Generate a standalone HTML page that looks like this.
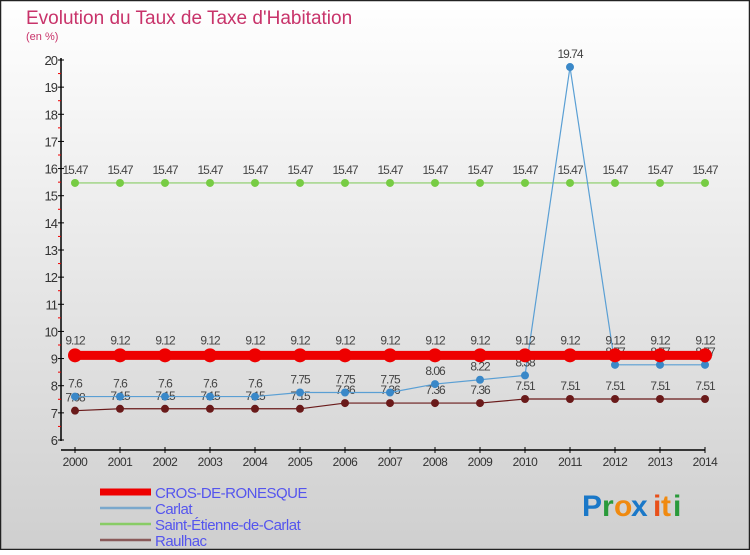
<!DOCTYPE html>
<html><head><meta charset="utf-8">
<style>
html,body{margin:0;padding:0}
body{width:750px;height:550px;overflow:hidden;font-family:"Liberation Sans",sans-serif}
svg text{font-family:"Liberation Sans",sans-serif}
</style></head>
<body>
<svg id="chart" width="750" height="550" xmlns="http://www.w3.org/2000/svg">
<defs>
<linearGradient id="bg" x1="0" y1="0" x2="0" y2="1">
<stop offset="0" stop-color="#ffffff"/><stop offset="1" stop-color="#cfcfcf"/>
</linearGradient>
</defs>
<rect x="0.5" y="0.5" width="749" height="549" fill="url(#bg)" stroke="#222" stroke-width="1.5"/>
<text x="26" y="24" font-size="19" fill="#c8336a">Evolution du Taux de Taxe d'Habitation</text>
<text x="26" y="40" font-size="11" fill="#c8336a">(en %)</text>
<g id="axes"></g>
<g id="series"></g>
<g id="legend"></g>
<g font-size="30" font-weight="bold">
<text x="582" y="516" fill="#1a78c8">P</text><text x="602" y="516" fill="#2a9a3a">r</text><text x="614" y="516" fill="#f08a10">o</text><text x="631" y="516" fill="#1a78c8">x</text><text x="653" y="516" fill="#e8501a">i</text><text x="661" y="516" fill="#f08a10">t</text><text x="673" y="516" fill="#2a9a3a">i</text>
</g>
</svg>
<script>
const years=[2000,2001,2002,2003,2004,2005,2006,2007,2008,2009,2010,2011,2012,2013,2014];
const crosValues=[9.12,9.12,9.12,9.12,9.12,9.12,9.12,9.12,9.12,9.12,9.12,9.12,9.12,9.12,9.12];
const carlatValues=[7.6,7.6,7.6,7.6,7.6,7.75,7.75,7.75,8.06,8.22,8.38,19.74,8.77,8.77,8.77];
const stEtienneValues=[15.47,15.47,15.47,15.47,15.47,15.47,15.47,15.47,15.47,15.47,15.47,15.47,15.47,15.47,15.47];
const raulhacValues=[7.08,7.15,7.15,7.15,7.15,7.15,7.36,7.36,7.36,7.36,7.51,7.51,7.51,7.51,7.51];
const yTicks=[6,7,8,9,10,11,12,13,14,15,16,17,18,19,20];
const seriesNames=["CROS-DE-RONESQUE","Carlat","Saint-Étienne-de-Carlat","Raulhac"];

const NS="http://www.w3.org/2000/svg";
const x0=75,dx=45,yTop=60,yMin=6,yMax=20,yBot=440;
function xs(i){return x0+i*dx;}
function ys(v){return yBot-(v-yMin)*(yBot-yTop)/(yMax-yMin);}
function mk(tag,attrs,parent){const e=document.createElementNS(NS,tag);for(const k in attrs)e.setAttribute(k,attrs[k]);parent.appendChild(e);return e;}

const axes=document.getElementById('axes');
const ya=mk('line',{x1:61,y1:yTop-2,x2:61,y2:yBot+1,stroke:'#000','stroke-width':1.5},axes);


yTicks.forEach(t=>{
  const y=ys(t);
  mk('line',{x1:58,y1:y,x2:64,y2:y,stroke:'#000'},axes);
  if(t<yMax){mk('line',{x1:58,y1:ys(t+0.5),x2:61,y2:ys(t+0.5),stroke:'#e00'},axes);}
  const tx=mk('text',{x:57,y:y+5,'text-anchor':'end','font-size':13,fill:'#333','letter-spacing':'-1'},axes);
  tx.textContent=t;
  
  
});
const xa=mk('line',{x1:61,y1:450,x2:xs(years.length-1),y2:450,stroke:'#000','stroke-width':1.5},axes);


years.forEach((yr,i)=>{
  mk('line',{x1:xs(i),y1:447,x2:xs(i),y2:453,stroke:'#000'},axes);
  const tx=mk('text',{x:xs(i),y:466,'text-anchor':'middle','font-size':12,fill:'#333','letter-spacing':'-0.5'},axes);
  tx.textContent=yr;
  
  
});

const sg=document.getElementById('series');
function drawSeries(vals,name,color,lw,r,ptColor,labelDy){
  const g=mk('g',{},sg);
  
  
  mk('polyline',{points:vals.map((v,i)=>xs(i)+','+ys(v)).join(' '),fill:'none',stroke:color,'stroke-width':lw},g);
  vals.forEach((v,i)=>{
    const c=mk('circle',{cx:xs(i),cy:ys(v),r:r,fill:ptColor},g);
    
    
    const t=mk('text',{x:xs(i),y:ys(v)+labelDy,'text-anchor':'middle','font-size':12,fill:'#444','letter-spacing':'-1'},g);
    t.textContent=v;
    
    
  });
}
drawSeries(stEtienneValues,'saint-etienne-de-carlat','#88cc66',1.2,4,'#77cc44',-9);
drawSeries(raulhacValues,'raulhac','#6a1a1a',1.2,4,'#6a1a1a',-9);
drawSeries(carlatValues,'carlat','#5a9fd4',1.2,4,'#3a88c8',-9);
drawSeries(crosValues,'cros-de-ronesque','#ee0000',9,7,'#ee0000',-11);

const lg=document.getElementById('legend');
const lcol=['#ee0000','#7aa8cc','#88cc66','#8a5a5a'];
const lw=[7,2.5,2.5,2.5];
seriesNames.forEach((n,i)=>{
  const y=492+i*16;
  const l=mk('line',{x1:100,y1:y,x2:151,y2:y,stroke:lcol[i],'stroke-width':lw[i]},lg);
  
  
  const t=mk('text',{x:155,y:y+6,'font-size':15,fill:'#5555ee','letter-spacing':'-0.5'},lg);
  t.textContent=n;
  
  
});
</script>
</body></html>
